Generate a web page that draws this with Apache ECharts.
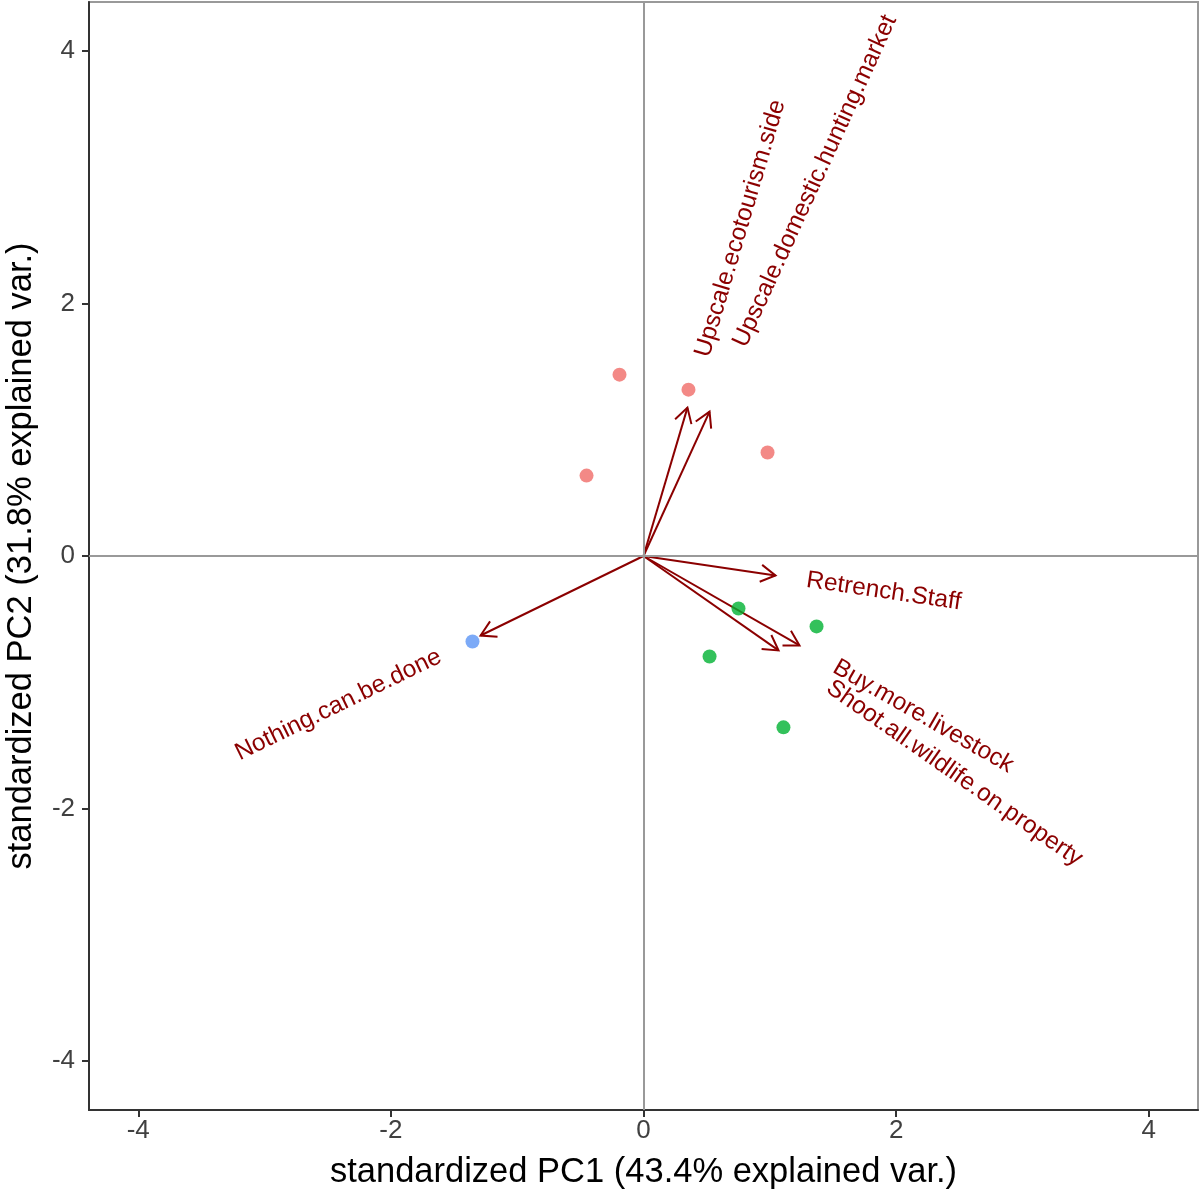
<!DOCTYPE html>
<html>
<head>
<meta charset="utf-8">
<title>PCA biplot</title>
<script src="https://cdn.jsdelivr.net/npm/echarts@6/dist/echarts.min.js"></script>
<style>
  html, body { margin: 0; padding: 0; background: #fff; }
  #main { width: 1200px; height: 1197px; }
</style>
</head>
<body>
<div id="main"></div>
<script>
// tick values shared by both axes
const tickValues = [-4, -2, 0, 2, 4];

// observation scores (PC1, PC2) per group
const groupRed = [[-0.19, 1.437], [0.356, 1.318], [0.982, 0.82], [-0.451, 0.637]];
const groupGreen = [[0.752, -0.416], [1.37, -0.558], [0.523, -0.796], [1.108, -1.358]];
const groupBlue = [[-1.354, -0.677]];

// variable loadings (arrows)
const varNames = [
  'Upscale.ecotourism.side',
  'Upscale.domestic.hunting.market',
  'Retrench.Staff',
  'Buy.more.livestock',
  'Shoot.all.wildlife.on.property',
  'Nothing.can.be.done'
];
const varPC1 = [0.348, 0.523, 1.045, 1.235, 1.069, -1.29];
const varPC2 = [1.176, 1.144, -0.154, -0.709, -0.748, -0.63];

const FONT = '"Liberation Sans", Arial, sans-serif';
const ARROW_COLOR = '#8B0000';
const LABEL_SIZE = 24.5;

var chart = echarts.init(document.getElementById('main'));

// measure label width so the text sits out past the arrow tip like ggbiplot
var ctx = document.createElement('canvas').getContext('2d');
ctx.font = LABEL_SIZE + 'px ' + FONT;
function textWidth(s) {
  return ctx.measureText(s).width;
}

function renderArrow(params, api) {
  var o = api.coord([0, 0]);
  var t = api.coord([api.value(0), api.value(1)]);
  var dx = t[0] - o[0], dy = t[1] - o[1];
  var len = Math.sqrt(dx * dx + dy * dy);
  var ux = dx / len, uy = dy / len;
  var a = Math.atan2(dy, dx);
  var head = 17, spread = Math.PI / 6;
  var b1 = [t[0] - head * Math.cos(a - spread), t[1] - head * Math.sin(a - spread)];
  var b2 = [t[0] - head * Math.cos(a + spread), t[1] - head * Math.sin(a + spread)];
  var name = varNames[params.dataIndex];
  var gap = 0.2 * textWidth(name);
  var toRight = dx >= 0;
  var rot = toRight ? -a : -(a + Math.PI);
  return {
    type: 'group',
    children: [
      {
        type: 'line',
        shape: { x1: o[0], y1: o[1], x2: t[0], y2: t[1] },
        style: { stroke: ARROW_COLOR, lineWidth: 2 }
      },
      {
        type: 'polyline',
        shape: { points: [b1, t, b2] },
        style: { stroke: ARROW_COLOR, lineWidth: 2, fill: null }
      },
      {
        type: 'text',
        x: t[0] + ux * gap,
        y: t[1] + uy * gap,
        rotation: rot,
        z2: 10,
        style: {
          text: name,
          fill: ARROW_COLOR,
          font: LABEL_SIZE + 'px ' + FONT,
          textAlign: toRight ? 'left' : 'right',
          align: toRight ? 'left' : 'right',
          textVerticalAlign: 'middle',
          verticalAlign: 'middle'
        }
      }
    ]
  };
}

var option = {
  backgroundColor: '#fff',
  animation: false,
  grid: {
    left: 89, right: 2, top: 2, bottom: 87,
    outerBoundsMode: 'none',
    show: true,
    borderColor: '#999',
    borderWidth: 2
  },
  xAxis: {
    type: 'value',
    min: -4.39,
    max: 4.39,
    name: 'standardized PC1 (43.4% explained var.)',
    nameLocation: 'middle',
    nameGap: 45,
    nameTextStyle: { fontSize: 34.5, color: '#000', fontFamily: FONT },
    axisLine: { onZero: false, lineStyle: { color: '#333', width: 2 } },
    axisTick: { customValues: tickValues, length: 7, lineStyle: { color: '#333', width: 2 } },
    axisLabel: { customValues: tickValues, color: '#404040', fontSize: 26, margin: 8, fontFamily: FONT },
    splitLine: { show: false }
  },
  yAxis: {
    type: 'value',
    min: -4.39,
    max: 4.39,
    name: 'standardized PC2 (31.8% explained var.)',
    nameLocation: 'middle',
    nameGap: 50,
    nameTextStyle: { fontSize: 34.5, color: '#000', fontFamily: FONT },
    axisLine: { onZero: false, lineStyle: { color: '#333', width: 2 } },
    axisTick: { customValues: tickValues, length: 7, lineStyle: { color: '#333', width: 2 } },
    axisLabel: { customValues: tickValues, color: '#404040', fontSize: 26, margin: 14, fontFamily: FONT },
    splitLine: { show: false }
  },
  series: [
    {
      // zero reference lines
      type: 'line',
      data: [],
      z: 1,
      markLine: {
        silent: true,
        symbol: ['none', 'none'],
        label: { show: false },
        lineStyle: { color: '#999', width: 2, type: 'solid' },
        data: [{ xAxis: 0 }, { yAxis: 0 }]
      }
    },
    {
      type: 'custom',
      z: 2,
      clip: false,
      renderItem: renderArrow,
      encode: { x: 0, y: 1 },
      data: varPC1.map(function (x, i) { return [x, varPC2[i]]; })
    },
    {
      name: 'group 1',
      type: 'scatter',
      z: 3,
      symbolSize: 14,
      itemStyle: { color: '#F06C68' },
      data: groupRed
    },
    {
      name: 'group 2',
      type: 'scatter',
      z: 3,
      symbolSize: 14,
      itemStyle: { color: '#00B232' },
      data: groupGreen
    },
    {
      name: 'group 3',
      type: 'scatter',
      z: 3,
      symbolSize: 14,
      itemStyle: { color: '#5B95F5' },
      data: groupBlue
    }
  ]
};

chart.setOption(option);
</script>
</body>
</html>
